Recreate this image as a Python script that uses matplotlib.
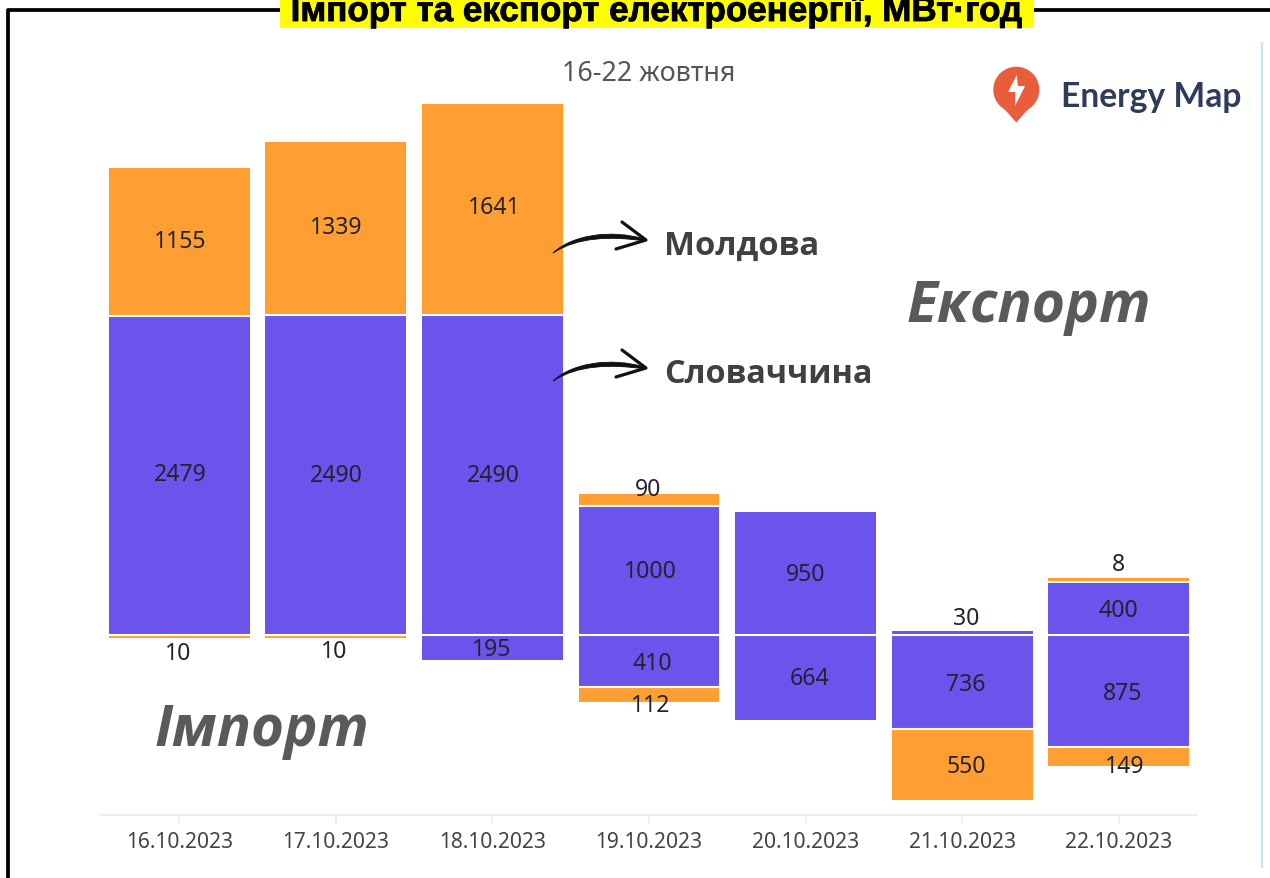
import matplotlib
matplotlib.use("Agg")
import matplotlib.pyplot as plt
import matplotlib.patheffects as pe
from matplotlib.patches import Circle, Polygon, PathPatch, Rectangle
from matplotlib.path import Path

dates = ["16.10.2023", "17.10.2023", "18.10.2023", "19.10.2023",
         "20.10.2023", "21.10.2023", "22.10.2023"]
export_slovakia = [2479, 2490, 2490, 1000, 950, 30, 400]
export_moldova = [1155, 1339, 1641, 90, 0, 0, 8]
import_slovakia = [0, 0, 195, 410, 664, 736, 875]
import_moldova = [10, 10, 0, 112, 0, 550, 149]

title = "Імпорт та експорт електроенергії, МВт·год"
subtitle = "16-22 жовтня"
brand = "Energy Map"
name_moldova = "Молдова"
name_slovakia = "Словаччина"
word_export = "Експорт"
word_import = "Імпорт"

ORANGE = "#FF9F33"
PURPLE = "#6A54EC"
TXT = "#222230"
W, H = 1270, 879
ZERO_PX, PX_PER_UNIT = 635.5, 0.1285
AX_L, AX_R, AX_B, AX_T = 101, 1197, 816, 40
MIN_H = 24
BAR_W = 0.9

plt.rcParams["font.family"] = ["Noto Sans", "DejaVu Sans"]
fig = plt.figure(figsize=(W / 100, H / 100), dpi=100, facecolor="white")
ax = fig.add_axes([AX_L / W, 1 - AX_B / H, (AX_R - AX_L) / W, (AX_B - AX_T) / H])
ax.set_xlim(-0.5, len(dates) - 0.5)
ax.set_ylim((ZERO_PX - AX_B) / PX_PER_UNIT, (ZERO_PX - AX_T) / PX_PER_UNIT)
for s in ("top", "left", "right"):
    ax.spines[s].set_visible(False)
ax.spines["bottom"].set_color("#eeeeee")
ax.spines["bottom"].set_linewidth(1.5)
ax.set_yticks([])
ax.set_xticks(range(len(dates)))
ax.set_xticklabels(dates, fontsize=15.1, color="#444444")
ax.tick_params(axis="x", length=6.5, width=1.2, color="#eeeeee", pad=5)

# pixel offsets of the value labels relative to the segment centre (dx, dy up)
off_es = [(1, 1), (0, 0), (1, 0), (1, -1), (0, -1), (4, 15), (0, -1)]
off_em = [(1, 1), (0, 2), (2, 2), (-1, 11), (0, 0), (0, 0), (0, 19)]
off_is = [(0, 0), (0, 0), (-1, -2), (3, -2), (4, -1), (4, -2), (4, -2)]
off_im = [(-1, -18), (-2, -16), (0, 0), (2, -11), (0, 0), (4, -2), (6, -9)]


def label(x, y, v, off):
    ax.annotate(str(v), (x, y), xytext=(off[0] * 0.72, off[1] * 0.72),
                textcoords="offset points", ha="center", va="center",
                fontsize=16.6, color=TXT, zorder=6, annotation_clip=False)


for i in range(len(dates)):
    es, em, is_, im = export_slovakia[i], export_moldova[i], import_slovakia[i], import_moldova[i]
    if es:
        ax.bar(i, es, BAR_W, color=PURPLE, linewidth=0, zorder=2)
        label(i, es / 2, es, off_es[i])
    if em:
        lift = 16 if em < MIN_H else 0
        ax.bar(i, max(em, MIN_H), BAR_W, bottom=es + lift, color=ORANGE, linewidth=0, zorder=2)
        label(i, es + em / 2, em, off_em[i])
    if is_:
        ax.bar(i, -is_, BAR_W, color=PURPLE, linewidth=0, zorder=2)
        label(i, -is_ / 2, is_, off_is[i])
    if im:
        ax.bar(i, -max(im, MIN_H), BAR_W, bottom=-is_, color=ORANGE, linewidth=0, zorder=2)
        label(i, -is_ - im / 2, im, off_im[i])
    # white separators between stacked segments
    lines = [0]
    if es and em >= MIN_H:
        lines.append(es)
    if is_ and im:
        lines.append(-is_)
    ax.hlines(lines, i - BAR_W / 2, i + BAR_W / 2, color="white", linewidth=1.5, zorder=3)

# overlay in reference pixel coordinates for frame, title, logo and annotations
ov = fig.add_axes([0, 0, 1, 1], facecolor="none")
ov.set_xlim(0, W)
ov.set_ylim(H, 0)
ov.axis("off")

ov.plot([7.5, 7.5, W], [H, 11, 11], color="black", linewidth=2.7,
        solid_joinstyle="round", zorder=1)
ov.plot([1262, 1262], [44, 868], color="#cfe2f3", linewidth=1.6, zorder=1)
ov.add_patch(Rectangle((280, -2), 754, 31, facecolor="#FFFF00", edgecolor="none", zorder=2))
ov.text(657, 22, title, family="Liberation Sans", weight="bold", fontsize=25.2,
        color="black", ha="center", va="baseline", zorder=3,
        path_effects=[pe.withStroke(linewidth=0.6, foreground="black")])
ov.text(649, 74, subtitle, fontsize=19.4, color="#555555", ha="center", va="center")

# logo
ov.add_patch(Circle((1016.3, 90.7), 23, facecolor="#E85D3A", edgecolor="none"))
ov.add_patch(Polygon([(995.5, 100), (1037, 100), (1016.3, 123.5)], closed=True,
                     facecolor="#E85D3A", edgecolor="none"))
ov.add_patch(Polygon([(1016.7, 76), (1008, 93), (1015.2, 93), (1015, 107), (1025, 87), (1018, 87)],
                     closed=True, facecolor="white", edgecolor="none"))
ov.text(1061, 97, brand, family="Lato", weight="bold", fontsize=24.2,
        color="#2F3B5C", ha="left", va="center")


def arrow(dy):
    verts = [(553, 254 + dy),
             (572, 236 + dy), (610, 230 + dy), (645, 240 + dy),
             (645, 242 + dy),
             (610, 237 + dy), (578, 238 + dy), (553, 254 + dy)]
    codes = [Path.MOVETO, Path.CURVE4, Path.CURVE4, Path.CURVE4,
             Path.LINETO, Path.CURVE4, Path.CURVE4, Path.CURVE4]
    ov.add_patch(PathPatch(Path(verts, codes), facecolor="#111111", edgecolor="#111111", linewidth=0.6))
    ov.plot([622, 646, 616], [223 + dy, 241 + dy, 250 + dy], color="#111111", linewidth=2.3,
            solid_capstyle="round", solid_joinstyle="round")


arrow(0)
arrow(128)
ov.text(664, 246, name_moldova, family="Open Sans", weight="bold", fontsize=23.6,
        color="#404040", ha="left", va="center")
ov.text(664, 375, name_slovakia, family="Open Sans", weight="bold", fontsize=23.3,
        color="#404040", ha="left", va="center")
ov.text(907, 307, word_export, family="Open Sans", weight="bold", style="italic", fontsize=41,
        color="#5a5a5a", ha="left", va="center")
ov.text(155, 731, word_import, family="Open Sans", weight="bold", style="italic", fontsize=40.7,
        color="#5a5a5a", ha="left", va="center")

fig.savefig("out.png", dpi=100, facecolor="white")
